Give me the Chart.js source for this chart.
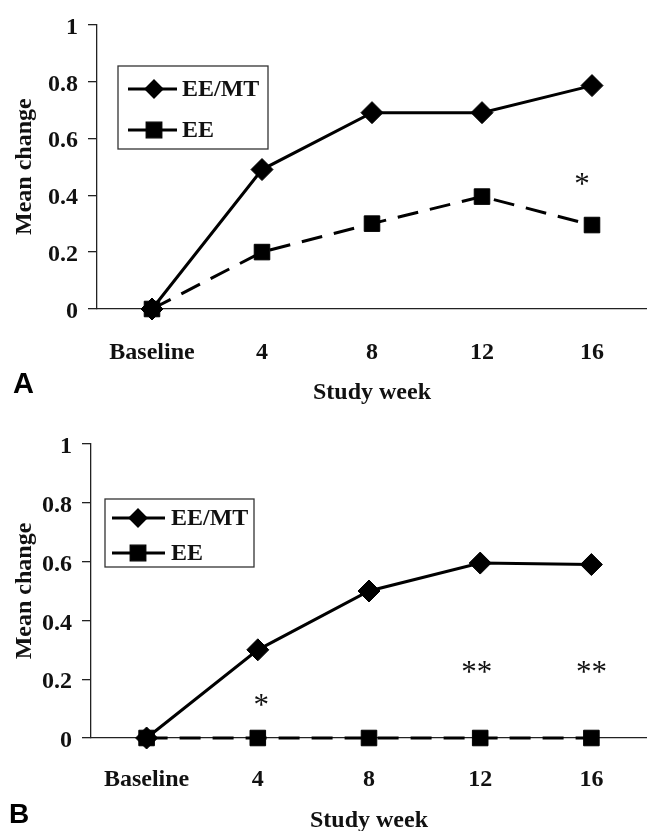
<!DOCTYPE html>
<html>
<head>
<meta charset="utf-8">
<title>Mean change by study week</title>
<script src="https://cdn.jsdelivr.net/npm/chart.js@4.4.1/dist/chart.umd.min.js"></script>
<style>
html, body { margin: 0; padding: 0; background: #fff; overflow: hidden; }
#wrap { position: relative; width: 647px; height: 831px; }
.panel { position: absolute; left: 0; width: 647px; }
#panelA { top: 0; height: 410px; }
#panelB { top: 410px; height: 430px; }
</style>
</head>
<body>
<div id="wrap">
  <div class="panel" id="panelA"><canvas id="chartA"></canvas></div>
  <div class="panel" id="panelB"><canvas id="chartB"></canvas></div>
</div>
<script>
// categories and series
var weeks = ['Baseline', '4', '8', '12', '16'];
var seriesNames = ['EE/MT', 'EE'];

// panel A
var eemtA = [0, 0.49, 0.69, 0.69, 0.785];
var eeA   = [0, 0.2, 0.3, 0.395, 0.295];
var starsA = [{ x: 3.91, y: 0.45, text: '*' }];

// panel B
var eemtB = [0, 0.3, 0.5, 0.595, 0.59];
var eeB   = [0, 0, 0, 0, 0];
var starsB = [
	{ x: 1.03, y: 0.123, text: '*' },
	{ x: 2.97, y: 0.234, text: '**' },
	{ x: 4.0,  y: 0.234, text: '**' }
];

var serif = '"Liberation Serif", "Times New Roman", serif';
Chart.defaults.font.family = serif;
Chart.defaults.color = '#111';

// stars, boxed legend and panel letter
var extrasPlugin = {
	id: 'extras',
	afterDatasetsDraw: function(chart, args, opts) {
		var ctx = chart.ctx;
		var xs = chart.scales.x, ys = chart.scales.y;
		ctx.save();

		ctx.fillStyle = '#111';
		ctx.font = '31px ' + serif;
		ctx.textAlign = 'center';
		ctx.textBaseline = 'alphabetic';
		opts.stars.forEach(function(s) {
			ctx.fillText(s.text, xs.getPixelForValue(s.x), ys.getPixelForValue(s.y) + 13);
		});

		var lg = opts.legend;
		ctx.fillStyle = '#fff';
		ctx.fillRect(lg.left, lg.top, lg.width, lg.height);
		ctx.strokeStyle = '#333';
		ctx.lineWidth = 1.3;
		ctx.strokeRect(lg.left, lg.top, lg.width, lg.height);

		chart.data.datasets.forEach(function(ds, i) {
			var ry = lg.rows[i];
			ctx.save();
			ctx.strokeStyle = ds.borderColor;
			ctx.lineWidth = ds.borderWidth;
			ctx.setLineDash(ds.borderDash || []);
			ctx.beginPath();
			ctx.moveTo(lg.lineFrom, ry);
			ctx.lineTo(lg.lineTo, ry);
			ctx.stroke();
			ctx.restore();

			ctx.fillStyle = '#000';
			ctx.strokeStyle = '#000';
			Chart.helpers.drawPoint(ctx, {
				pointStyle: ds.pointStyle,
				radius: lg.markerRadius[i],
				borderWidth: 1,
				rotation: 0
			}, lg.markerX, ry);

			ctx.fillStyle = '#111';
			ctx.font = 'bold 24px ' + serif;
			ctx.textAlign = 'left';
			ctx.textBaseline = 'middle';
			ctx.fillText(ds.label, lg.textX, ry + 1);
		});

		ctx.fillStyle = '#000';
		ctx.font = 'bold ' + opts.letter.size + 'px "Liberation Sans", Arial, sans-serif';
		ctx.textAlign = 'left';
		ctx.textBaseline = 'alphabetic';
		ctx.fillText(opts.letter.text, opts.letter.x, opts.letter.y);

		ctx.restore();
	}
};

function makePanel(canvasId, eemt, ee, stars, p) {
	var tickFont = { size: 24, weight: 'bold' };
	return new Chart(document.getElementById(canvasId), {
		type: 'line',
		data: {
			labels: weeks,
			datasets: [
				{
					label: seriesNames[0],
					data: eemt,
					borderColor: '#000',
					backgroundColor: '#000',
					borderWidth: 3,
					pointStyle: 'rectRot',
					pointRadius: 11,
					pointBorderWidth: 1,
					tension: 0,
					clip: false
				},
				{
					label: seriesNames[1],
					data: ee,
					borderColor: '#000',
					backgroundColor: '#000',
					borderWidth: 3,
					borderDash: [21, 12],
					pointStyle: 'rect',
					pointRadius: 11,
					pointBorderWidth: 1,
					tension: 0,
					clip: false
				}
			]
		},
		options: {
			responsive: true,
			maintainAspectRatio: false,
			animation: false,
			events: [],
			layout: { autoPadding: false, padding: { top: p.top, left: 0, right: 0, bottom: 0 } },
			plugins: {
				legend: { display: false },
				tooltip: { enabled: false },
				extras: { stars: stars, legend: p.legend, letter: p.letter }
			},
			scales: {
				x: {
					type: 'category',
					offset: true,
					grid: { display: false },
					border: { display: true, color: '#222', width: 1.3 },
					ticks: { color: '#111', font: tickFont, padding: p.xTickPad, maxRotation: 0, autoSkip: false },
					title: { display: true, text: 'Study week', color: '#111', font: tickFont, padding: { top: 0, bottom: p.xTitlePad } },
					afterFit: function(s) { s.height = p.xHeight; }
				},
				y: {
					min: 0,
					max: 1,
					grid: { drawOnChartArea: false, drawTicks: true, tickLength: 9, color: '#222', lineWidth: 1.3 },
					border: { display: true, color: '#222', width: 1.3 },
					ticks: {
						stepSize: 0.2, color: '#111', font: tickFont, padding: 10, labelOffset: 3,
						callback: function(v) { return String(Number(v.toFixed(1))); }
					},
					title: { display: true, text: 'Mean change', color: '#111', font: tickFont, padding: { top: 10.6, bottom: 0 } },
					afterFit: function(s) { s.width = p.yWidth; }
				}
			}
		},
		plugins: [extrasPlugin]
	});
}

makePanel('chartA', eemtA, eeA, starsA, {
	top: 15, yWidth: 97, xHeight: 101, xTickPad: 21.5, xTitlePad: 2.5,
	legend: { left: 118, top: 66, width: 150, height: 83, rows: [89, 130],
		lineFrom: 128, lineTo: 177, markerX: 154, markerRadius: [9, 11], textX: 182 },
	letter: { text: 'A', size: 29, x: 13, y: 393 }
});

makePanel('chartB', eemtB, eeB, starsB, {
	top: 34, yWidth: 91, xHeight: 102, xTickPad: 19.5, xTitlePad: 4.5,
	legend: { left: 105, top: 89, width: 149, height: 68, rows: [108, 143],
		lineFrom: 112, lineTo: 165, markerX: 138, markerRadius: [9, 11], textX: 171 },
	letter: { text: 'B', size: 28, x: 9, y: 413 }
});
</script>
</body>
</html>
